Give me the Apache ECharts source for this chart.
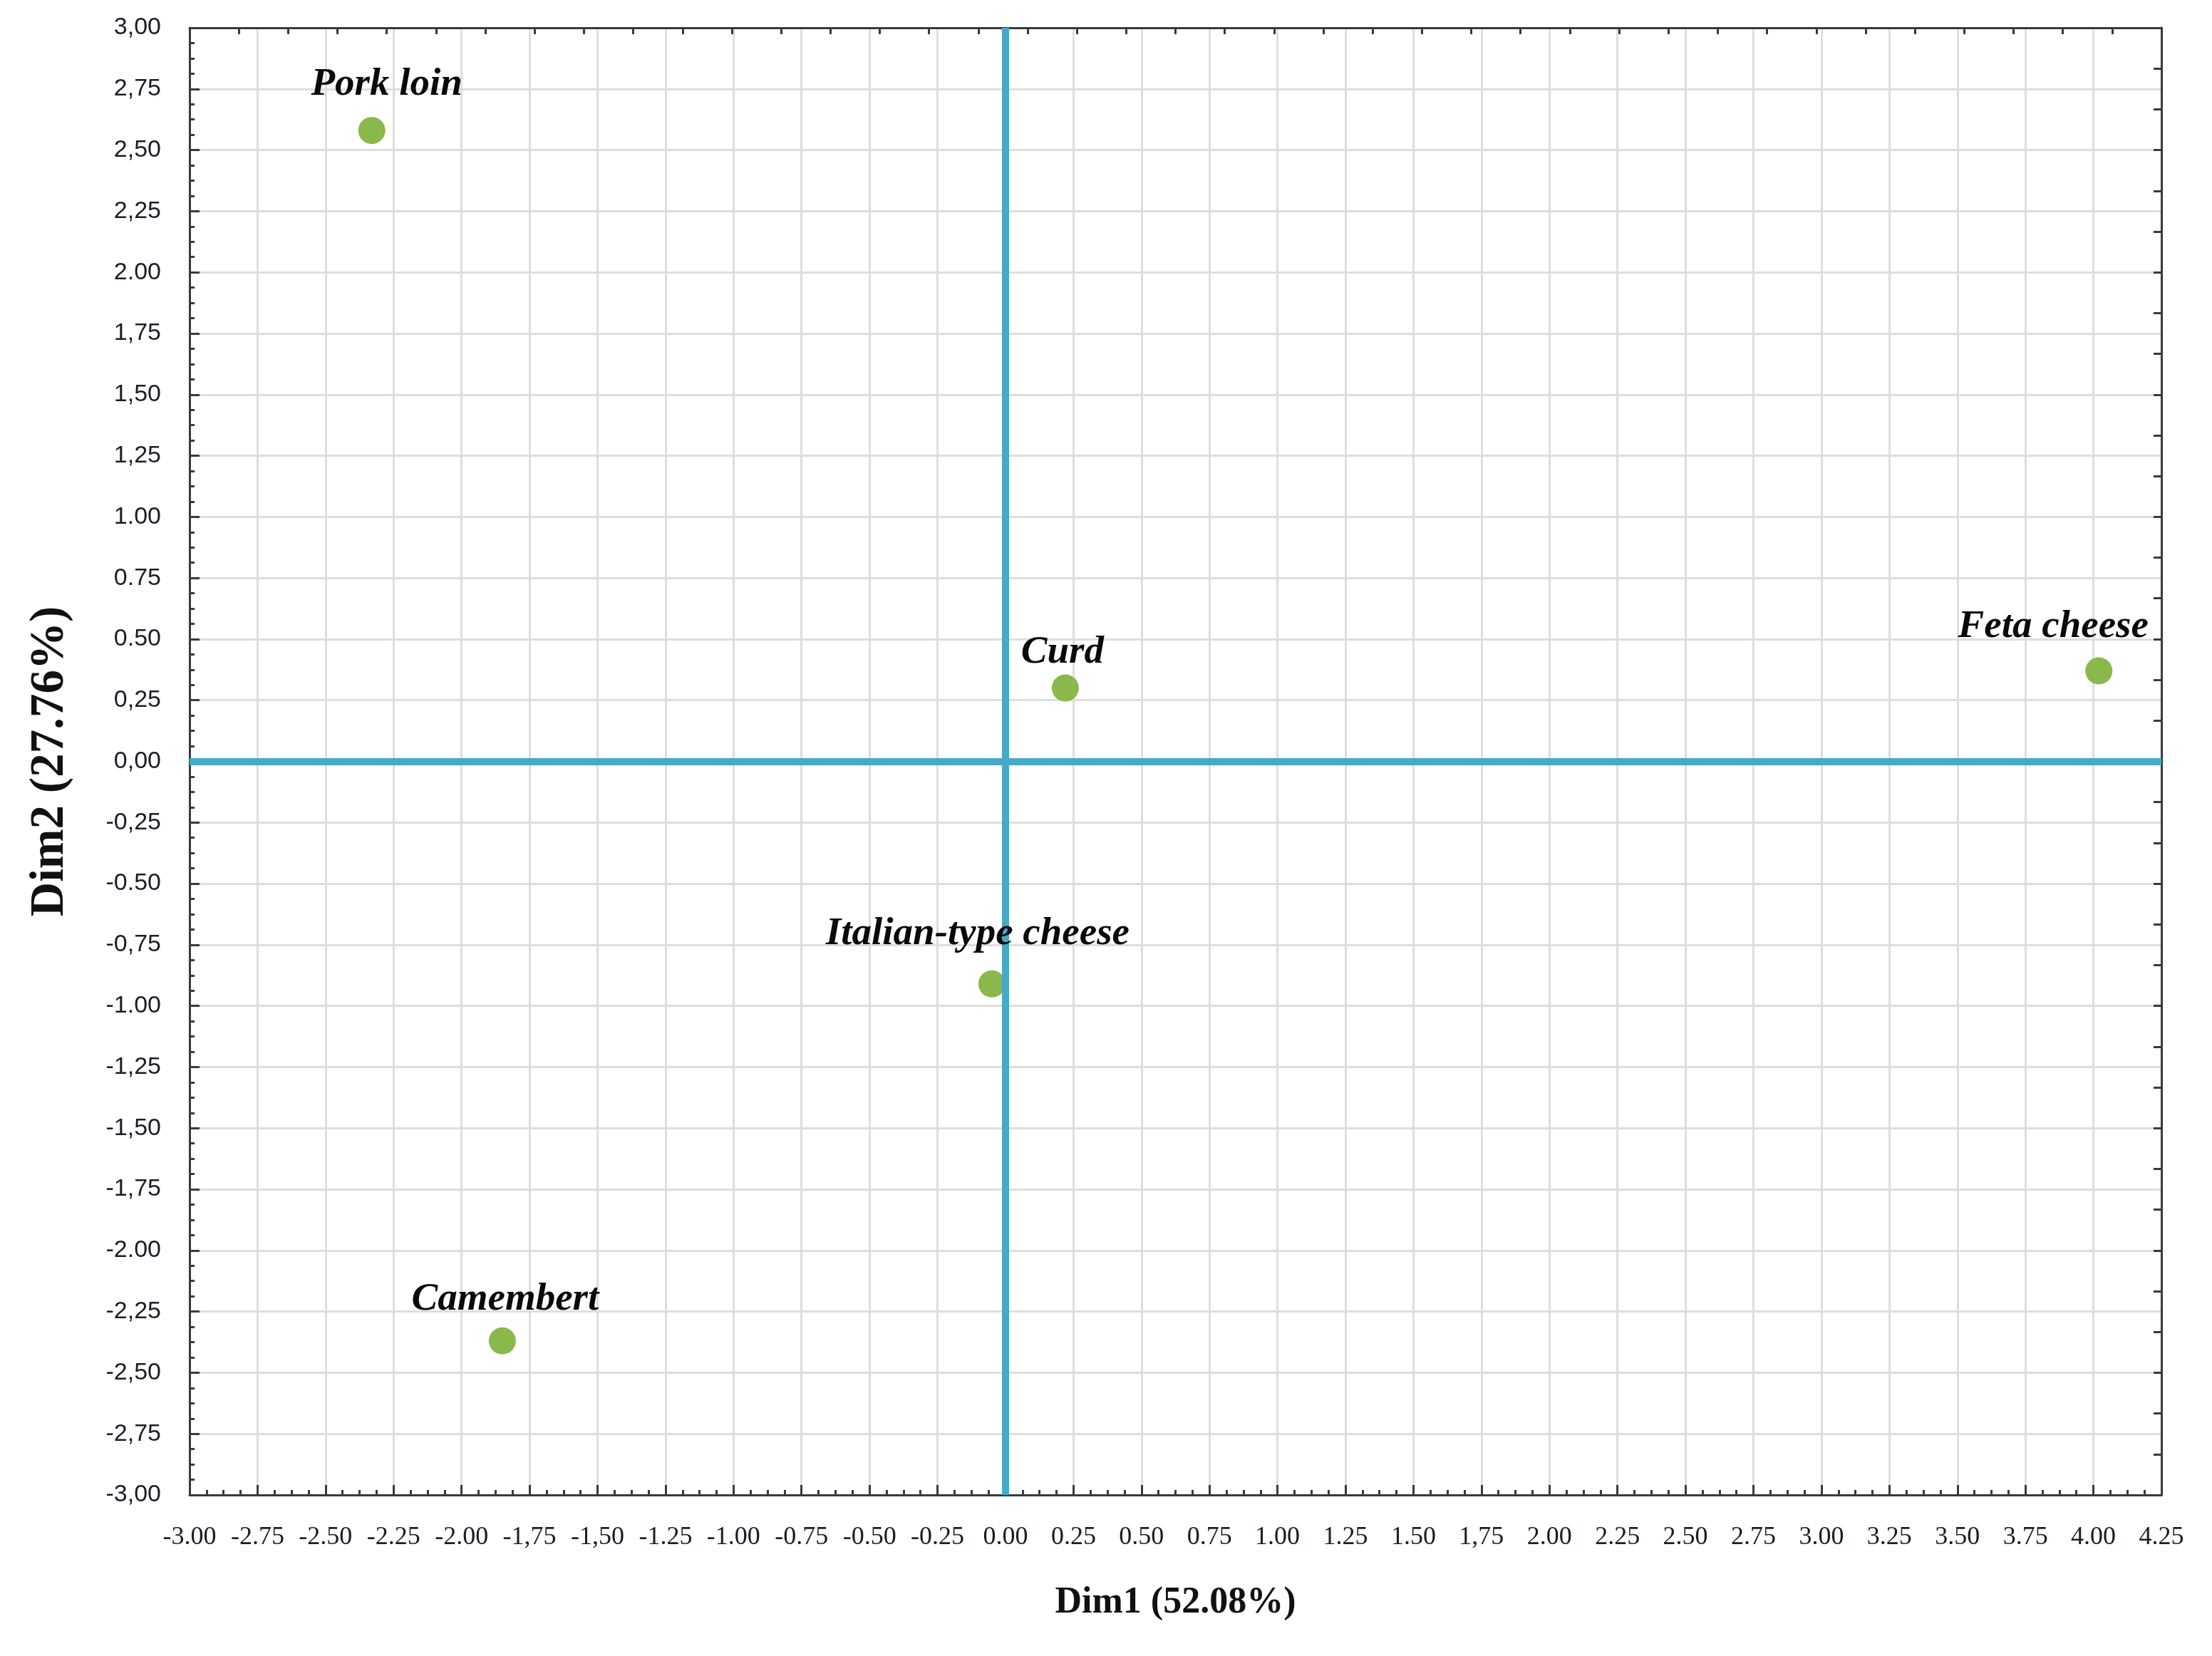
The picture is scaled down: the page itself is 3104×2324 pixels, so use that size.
<!DOCTYPE html>
<html>
<head>
<meta charset="utf-8">
<script src="https://cdn.jsdelivr.net/npm/echarts@6/dist/echarts.min.js"></script>
<style>
html,body{margin:0;padding:0;background:#fff;}
#chart{width:3104px;height:2324px;}
</style>
</head>
<body>
<div id="chart"></div>
<script>
// ---- data ----
const names = ["Pork loin", "Curd", "Feta cheese", "Italian-type cheese", "Camembert"];
const dim1 = [-2.33, 0.22, 4.02, -0.05, -1.85];
const dim2 = [2.58, 0.30, 0.37, -0.91, -2.37];
const xTickLabels = ["-3.00","-2.75","-2.50","-2.25","-2.00","-1,75","-1,50","-1.25","-1.00","-0.75","-0.50","-0.25","0.00","0.25","0.50","0.75","1.00","1.25","1.50","1,75","2.00","2.25","2.50","2.75","3.00","3.25","3.50","3.75","4.00","4.25"];
const yTickLabels = ["-3,00","-2,75","-2,50","-2,25","-2.00","-1,75","-1,50","-1,25","-1.00","-0,75","-0.50","-0,25","0,00","0,25","0.50","0.75","1.00","1,25","1,50","1,75","2.00","2,25","2,50","2,75","3,00"];
const xTitle = "Dim1 (52.08%)";
const yTitle = "Dim2 (27.76%)";

// ---- layout/style (not data) ----
const labelOffsets = [[21, -64], [-4, -50], [-64, -62], [-20, -70], [4, -58]];
const X_MIN = -3, X_MAX = 4.25, Y_MIN = -3, Y_MAX = 3, STEP = 0.25;

function xLabel(v) { const i = Math.round((v - X_MIN) / STEP); return xTickLabels[i] !== undefined ? xTickLabels[i] : ''; }
function yLabel(v) { const i = Math.round((v - Y_MIN) / STEP); return yTickLabels[i] !== undefined ? yTickLabels[i] : ''; }

const points = names.map((n, i) => ({ name: n, value: [dim1[i], dim2[i]] }));
const labelPoints = names.map((n, i) => ({
  name: n, value: [dim1[i], dim2[i]],
  label: { offset: labelOffsets[i] }
}));

const axisLineStyle = { color: '#3a3a3a', width: 3 };

const option = {
  backgroundColor: '#ffffff',
  animation: false,
  grid: { left: 266, top: 39, right: 71, bottom: 226, containLabel: false },
  xAxis: [{
    type: 'value', min: X_MIN, max: X_MAX, interval: STEP,
    position: 'bottom',
    name: xTitle, nameLocation: 'middle', nameGap: 126,
    nameTextStyle: { fontFamily: 'Liberation Serif', fontWeight: 'bold', fontSize: 52, color: '#111' },
    axisLine: { show: true, onZero: false, lineStyle: axisLineStyle },
    axisTick: { show: true, inside: true, length: 14, lineStyle: { color: '#3a3a3a', width: 3 } },
    minorTick: { show: true, splitNumber: 4, length: 7, lineStyle: { color: '#3a3a3a', width: 3 } },
    axisLabel: { margin: 42, fontFamily: 'Liberation Serif', fontSize: 36, color: '#1c1c2a', formatter: xLabel },
    splitLine: { show: true, lineStyle: { color: '#dedede', width: 3 } }
  }, {
    type: 'value', min: 0, max: 40, interval: 1, position: 'top',
    axisLine: { show: true, onZero: false, lineStyle: axisLineStyle },
    axisTick: { show: true, inside: true, length: 9, lineStyle: { color: '#3a3a3a', width: 3 } },
    axisLabel: { show: false }, splitLine: { show: false }
  }],
  yAxis: [{
    type: 'value', min: Y_MIN, max: Y_MAX, interval: STEP,
    position: 'left',
    name: yTitle, nameLocation: 'middle', nameGap: 162, nameRotate: 90,
    nameTextStyle: { fontFamily: 'Liberation Serif', fontWeight: 'bold', fontSize: 67, color: '#111' },
    axisLine: { show: true, onZero: false, lineStyle: axisLineStyle },
    axisTick: { show: true, inside: true, length: 14, lineStyle: { color: '#3a3a3a', width: 3 } },
    minorTick: { show: true, splitNumber: 4, length: 7, lineStyle: { color: '#3a3a3a', width: 3 } },
    axisLabel: { margin: 40, fontFamily: 'Liberation Sans', fontSize: 34, color: '#1c1c2a', formatter: yLabel },
    splitLine: { show: true, lineStyle: { color: '#dedede', width: 3 } }
  }, {
    type: 'value', min: -18, max: 18, interval: 1, position: 'right',
    axisLine: { show: true, onZero: false, lineStyle: axisLineStyle },
    axisTick: { show: true, inside: true, length: 11, lineStyle: { color: '#3a3a3a', width: 3 } },
    axisLabel: { show: false }, splitLine: { show: false }
  }],
  series: [
    {
      type: 'scatter', xAxisIndex: 0, yAxisIndex: 0, z: 2,
      symbol: 'circle', symbolSize: 38,
      itemStyle: { color: '#8ab84a', opacity: 1 },
      data: points
    },
    {
      type: 'line', xAxisIndex: 0, yAxisIndex: 0, z: 3, data: [],
      markLine: {
        silent: true, symbol: ['none', 'none'],
        label: { show: false },
        lineStyle: { color: '#46a9c6', width: 10, type: 'solid', opacity: 1 },
        data: [{ xAxis: 0 }, { yAxis: 0 }]
      }
    },
    {
      type: 'scatter', xAxisIndex: 0, yAxisIndex: 0, z: 5,
      symbolSize: 0, silent: true,
      itemStyle: { opacity: 1 },
      label: {
        show: true, position: 'inside', formatter: '{b}',
        fontFamily: 'Liberation Serif', fontStyle: 'italic', fontWeight: 'bold',
        fontSize: 55, color: '#0a0a0a', opacity: 1, textBorderWidth: 0, textBorderColor: 'transparent'
      },
      data: labelPoints
    }
  ]
};

const chart = echarts.init(document.getElementById('chart'), null, { renderer: 'canvas' });
chart.setOption(option);
</script>
</body>
</html>
